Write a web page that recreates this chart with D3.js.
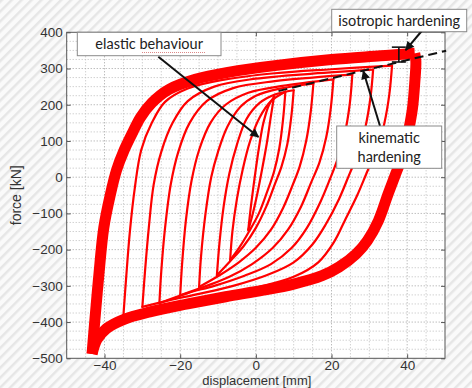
<!DOCTYPE html>
<html>
<head>
<meta charset="utf-8">
<script src="https://cdn.jsdelivr.net/npm/d3@7"></script>
<style>
  body { margin: 0; background: #fff; }
  svg { display: block; }
</style>
</head>
<body>
<svg id="chart" width="472" height="388"></svg>
<script>
// tick labels
const xTicks = [-40, -20, 0, 20, 40];
const yTicks = [-500, -400, -300, -200, -100, 0, 100, 200, 300, 400];

// hysteresis branches: [displacement mm, force kN]
// upper = loading branch (negative tip -> positive tip), lower = unloading branch
const loopNames = ['elastic', '7mm', '10mm', '15mm', '20mm', '25mm', '30mm', '35mm', '40mm'];

const upperBranches = [
  [[-2, -146], [-1.3, -80], [-0.3, 0], [0.8, 80], [2, 150], [3.5, 200], [4.8, 222]],
  [[-6.8, -229], [-6.2, -150], [-5, -60], [-3.5, 20], [-1.5, 100], [1, 165], [4, 210], [7.8, 236]],
  [[-10.3, -271], [-9.6, -180], [-8.5, -80], [-7, 10], [-5, 90], [-2.5, 160], [1, 205], [5, 228], [10, 240]],
  [[-15, -303], [-14.5, -220], [-13.3, -100], [-11.8, 0], [-10, 70], [-7.5, 140], [-4, 195], [0, 225], [6, 244], [15.2, 258]],
  [[-20, -326], [-19.5, -240], [-18.5, -120], [-17, -10], [-15, 75], [-12, 150], [-8, 200], [-2, 233], [7, 252], [20.5, 270]],
  [[-25.5, -348], [-25, -260], [-24, -140], [-22.5, -20], [-20.5, 70], [-17.5, 150], [-13, 210], [-6, 246], [5, 265], [15, 275], [25.5, 283]],
  [[-30, -358], [-29.3, -260], [-28.3, -140], [-27, -20], [-25, 70], [-22, 150], [-18, 210], [-11, 250], [0, 272], [15, 286], [31, 297]],
  [[-35, -381], [-34.3, -280], [-33.3, -150], [-32, -30], [-30.3, 75], [-27.5, 150], [-24, 208], [-18, 245], [-8, 270], [5, 287], [20, 298], [36, 308]],
  [[-43.3, -488], [-42.6, -400], [-41.5, -270], [-40.2, -140], [-38.5, -50], [-36.8, 20], [-34.8, 75], [-32.5, 125], [-30.5, 165], [-27.5, 205], [-23, 242], [-16, 270], [-7, 290], [5, 308], [20, 325], [33, 335], [40.5, 341], [42, 342]]
];

const lowerBranches = [
  [[4.8, 222], [4, 170], [3, 100], [1.8, 30], [0.5, -40], [-0.8, -100], [-2, -146]],
  [[7.8, 236], [7.2, 160], [6.2, 80], [4.8, 15], [3, -40], [0.8, -100], [-1.8, -150], [-4.3, -193], [-6.8, -229]],
  [[10, 240], [9.4, 170], [8.3, 90], [6.8, 30], [5, -20], [2.8, -80], [0, -140], [-3.2, -190], [-6.8, -232], [-10.3, -271]],
  [[15.2, 258], [14.5, 180], [13.3, 100], [11.6, 30], [9.8, -20], [7.2, -85], [4, -145], [0, -195], [-4.5, -235], [-9.5, -270], [-15, -303]],
  [[20.5, 270], [19.8, 190], [18.6, 110], [16.8, 40], [14.6, -15], [12, -80], [8.5, -145], [4.5, -195], [-1, -240], [-7, -275], [-13, -300], [-20, -326]],
  [[25.5, 283], [24.8, 200], [23.5, 120], [21.6, 50], [19.6, -5], [17, -70], [13.5, -140], [9.5, -195], [4, -240], [-3, -272], [-11, -300], [-18, -320], [-25.5, -348]],
  [[31, 297], [30.3, 220], [29, 140], [27.2, 70], [24.8, 10], [22, -60], [18.5, -130], [15, -185], [10, -235], [3, -270], [-6, -300], [-15, -322], [-23, -340], [-30, -358]],
  [[36, 308], [35.3, 230], [34, 150], [32.2, 80], [29.6, 19], [26.8, -50], [23.5, -120], [20.6, -180], [16.5, -235], [10, -275], [0, -305], [-10, -327], [-20, -345], [-28, -362], [-35, -381]],
  [[42, 342], [42.3, 320], [42, 260], [41.4, 190], [40.3, 125], [38.8, 60], [37, 10], [35, -45], [32.4, -120], [29.5, -175], [26.5, -212], [22, -248], [17.5, -272], [10, -295], [2, -312], [-8, -330], [-18, -350], [-28, -372], [-35, -393], [-39.5, -418], [-42, -448], [-43.3, -488]]
];

// kinematic hardening line and isotropic hardening bar
const kinematicLine = [[6, 238], [50.3, 349]];
const isoBarX = 37.8;
const isoBarForce = [318, 359];

// annotation arrow tips
const elasticTip = [0.7, 111];
const kinematicTip = [28.4, 293];
const isotropicTip = [39.6, 351];

const svg = d3.select('#chart');
const W = 472, H = 388;

const x = d3.scaleLinear().domain([-50, 50]).range([66.7, 445]);
const y = d3.scaleLinear().domain([-500, 400]).range([358.3, 32.3]);

// striped background
const defs = svg.append('defs');
const pat = defs.append('pattern')
  .attr('id', 'stripes')
  .attr('patternUnits', 'userSpaceOnUse')
  .attr('width', 7).attr('height', 7)
  .attr('patternTransform', 'rotate(45)');
pat.append('rect').attr('width', 7).attr('height', 7).attr('fill', '#fafafa');
pat.append('rect').attr('width', 2.5).attr('height', 7).attr('fill', '#e6e6e6');

defs.append('marker')
  .attr('id', 'arrow')
  .attr('viewBox', '0 0 10 10')
  .attr('refX', 9).attr('refY', 5)
  .attr('markerUnits', 'userSpaceOnUse')
  .attr('markerWidth', 10).attr('markerHeight', 9)
  .attr('orient', 'auto')
  .append('path')
  .attr('d', 'M0,0L10,5L0,10z')
  .attr('fill', '#111');

svg.append('rect').attr('width', W).attr('height', H).attr('fill', 'url(#stripes)');

// plot area
svg.append('rect')
  .attr('x', x(-50)).attr('y', y(400))
  .attr('width', x(50) - x(-50)).attr('height', y(-500) - y(400))
  .attr('fill', '#fff');

// dotted grid
const grid = svg.append('g').attr('class', 'grid');
grid.selectAll('line.gx')
  .data(d3.range(-45, 50, 5))
  .enter().append('line')
  .attr('x1', d => x(d)).attr('x2', d => x(d))
  .attr('y1', y(400)).attr('y2', y(-500))
  .attr('stroke', d => d % 20 === 0 ? '#a0a0a0' : '#bdbdbd')
  .attr('stroke-width', 1)
  .attr('stroke-dasharray', '1,2');
grid.selectAll('line.gy')
  .data(d3.range(-475, 400, 25))
  .enter().append('line')
  .attr('y1', d => y(d)).attr('y2', d => y(d))
  .attr('x1', x(-50)).attr('x2', x(50))
  .attr('stroke', d => d % 100 === 0 ? '#a0a0a0' : '#bdbdbd')
  .attr('stroke-width', 1)
  .attr('stroke-dasharray', '1,2');

// loops
const line = d3.line()
  .x(d => x(d[0]))
  .y(d => y(d[1]))
  .curve(d3.curveCatmullRom.alpha(0.5));

const loops = svg.append('g').attr('class', 'loops');
const last = loopNames.length - 1;
loopNames.forEach((name, i) => {
  const w = i === last ? 11 : 2.2;
  [upperBranches[i], lowerBranches[i]].forEach(branch => {
    loops.append('path')
      .attr('d', line(branch))
      .attr('fill', 'none').attr('stroke', '#f00')
      .attr('stroke-width', w)
      .attr('stroke-linejoin', 'round')
      .attr('stroke-linecap', i === last ? 'butt' : 'round');
  });
});

// frame
svg.append('rect')
  .attr('x', x(-50)).attr('y', y(400))
  .attr('width', x(50) - x(-50)).attr('height', y(-500) - y(400))
  .attr('fill', 'none').attr('stroke', '#555').attr('stroke-width', 1);

// axes
const axisFont = '"Liberation Sans", Arial, sans-serif';
const fmt = d => d < 0 ? '\u2212' + Math.abs(d) : String(d);

svg.append('g')
  .attr('transform', `translate(0,${y(-500)})`)
  .call(d3.axisBottom(x).tickValues(xTicks).tickSize(-4).tickPadding(2).tickFormat(fmt));
svg.append('g')
  .attr('transform', `translate(${x(-50)},0)`)
  .call(d3.axisLeft(y).tickValues(yTicks).tickSize(-4).tickPadding(4).tickFormat(fmt));
svg.append('g')
  .attr('transform', `translate(0,${y(400)})`)
  .call(d3.axisTop(x).tickValues(xTicks).tickSize(-4).tickFormat(''));
svg.append('g')
  .attr('transform', `translate(${x(50)},0)`)
  .call(d3.axisRight(y).tickValues(yTicks).tickSize(-4).tickFormat(''));

svg.selectAll('.domain').remove();
svg.selectAll('.tick line').attr('stroke', '#555');
svg.selectAll('.tick text')
  .attr('font-family', axisFont).attr('font-size', 13.5).attr('fill', '#333');

svg.append('text')
  .attr('x', x(0) + 1).attr('y', 385.2)
  .attr('text-anchor', 'middle')
  .attr('font-family', axisFont).attr('font-size', 13).attr('fill', '#333')
  .text('displacement [mm]');
svg.append('text')
  .attr('transform', `translate(21,${y(-50)}) rotate(-90)`)
  .attr('text-anchor', 'middle')
  .attr('font-family', axisFont).attr('font-size', 14).attr('fill', '#333')
  .text('force [kN]');

// kinematic hardening dashed line
svg.append('path')
  .attr('d', d3.line().x(d => x(d[0])).y(d => y(d[1]))(kinematicLine))
  .attr('fill', 'none').attr('stroke', '#111')
  .attr('stroke-width', 2).attr('stroke-dasharray', '9,5');

// isotropic hardening bar
const bar = svg.append('g').attr('stroke', '#111').attr('stroke-width', 1.6);
bar.append('line')
  .attr('x1', x(isoBarX)).attr('x2', x(isoBarX))
  .attr('y1', y(isoBarForce[0])).attr('y2', y(isoBarForce[1]));
isoBarForce.forEach(f => {
  bar.append('line')
    .attr('x1', x(isoBarX) - 7).attr('x2', x(isoBarX) + 7)
    .attr('y1', y(f)).attr('y2', y(f));
});

// annotation boxes with arrows
const noteFont = 'Lato, "Open Sans", sans-serif';
function arrow(x1, y1, tip) {
  svg.append('line')
    .attr('x1', x1).attr('y1', y1)
    .attr('x2', x(tip[0])).attr('y2', y(tip[1]))
    .attr('stroke', '#111').attr('stroke-width', 2)
    .attr('marker-end', 'url(#arrow)');
}
function box(bx, by, bw, bh, lines, cy) {
  svg.append('rect')
    .attr('x', bx).attr('y', by).attr('width', bw).attr('height', bh)
    .attr('fill', '#fff').attr('stroke', '#8a8a8a').attr('stroke-width', 1);
  lines.forEach((t, i) => {
    svg.append('text')
      .attr('x', bx + bw / 2).attr('y', cy + i * 19)
      .attr('text-anchor', 'middle')
      .attr('font-family', noteFont).attr('font-size', 14.5).attr('fill', '#222')
      .text(t);
  });
}

arrow(158.3, 56.7, elasticTip);
arrow(380, 126, kinematicTip);
arrow(421.7, 31, isotropicTip);

box(77.3, 32.3, 143.7, 23.4, ['elastic behaviour'], 49);
// spell-check squiggle under "behaviour"
svg.append('line')
  .attr('x1', 142).attr('x2', 205).attr('y1', 52.5).attr('y2', 52.5)
  .attr('stroke', '#d88').attr('stroke-width', 1).attr('stroke-dasharray', '1,1');

box(331.7, 9.3, 135, 22.4, ['isotropic hardening'], 25.5);
box(336.7, 126, 105, 42.3, ['kinematic', 'hardening'], 143);
</script>
</body>
</html>
